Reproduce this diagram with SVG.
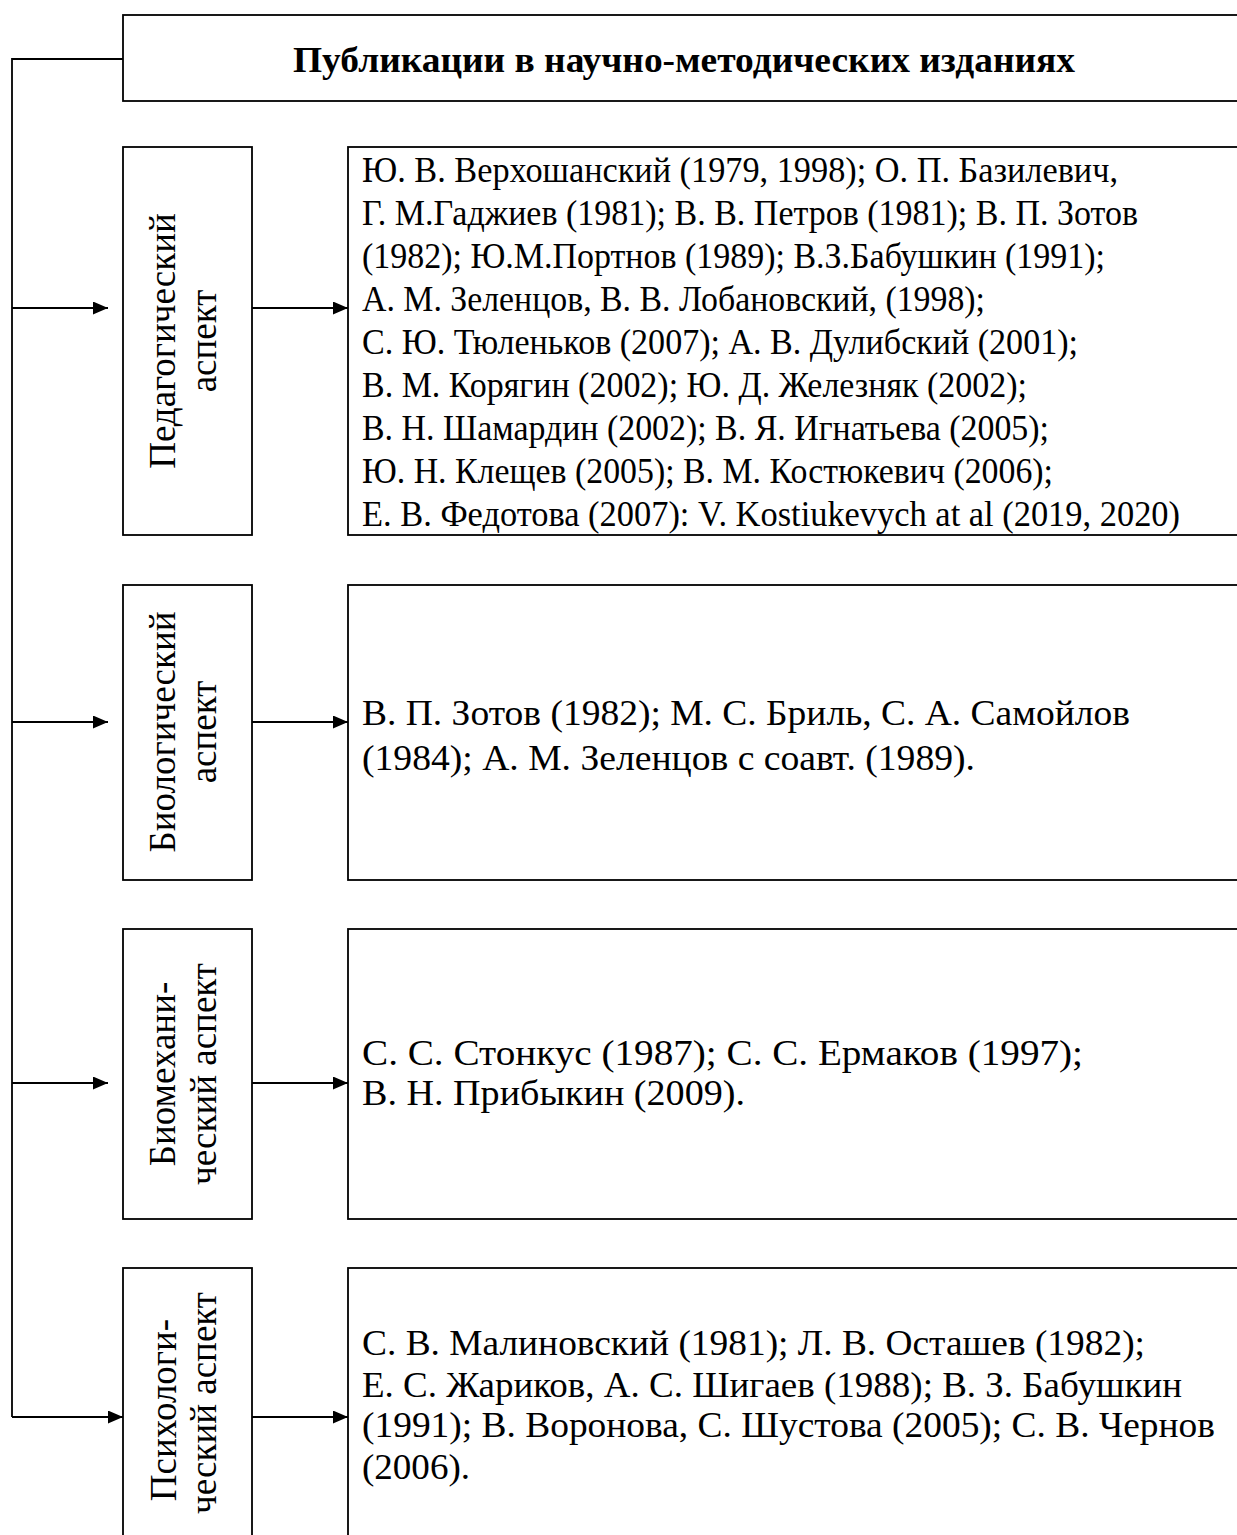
<svg xmlns="http://www.w3.org/2000/svg" width="1237" height="1535" viewBox="0 0 1237 1535">
<defs>
<marker id="arr" viewBox="0 0 15 13" refX="15" refY="6.5" markerWidth="15" markerHeight="13" markerUnits="userSpaceOnUse" orient="auto">
<path d="M0,0 L15,6.5 L0,13 Z" fill="#000"/>
</marker>
</defs>
<style>
.box{fill:#fff;stroke:#000;stroke-width:1.8}
.ln{fill:none;stroke:#000;stroke-width:1.8}
.t{font-family:"Liberation Serif","Times New Roman",serif;font-size:35px;fill:#000}
.tc{font-family:"Liberation Serif","Times New Roman",serif;font-size:36px;fill:#000}
.lab{font-family:"Liberation Serif","Times New Roman",serif;font-size:37px;fill:#000;text-anchor:middle}
.hd{font-family:"Liberation Serif","Times New Roman",serif;font-size:36px;font-weight:bold;fill:#000}
</style>
<rect width="1237" height="1535" fill="#fff"/>
<g id="header">
<rect class="box" x="123" y="15" width="1130" height="86"/>
<text class="hd" x="293" y="72" textLength="782" lengthAdjust="spacingAndGlyphs">Публикации в научно-методических изданиях</text>
</g>
<g id="ped-label">
<rect class="box" x="123" y="147" width="129" height="388"/>
<text class="lab" transform="translate(175,341) rotate(-90)">Педагогический</text>
<text class="lab" transform="translate(216,341) rotate(-90)">аспект</text>
</g>
<g id="ped-text">
<rect class="box" x="348" y="147" width="905" height="388"/>
<text class="tc" x="362" y="182" textLength="756" lengthAdjust="spacingAndGlyphs">Ю. В. Верхошанский (1979, 1998);  О. П. Базилевич,</text>
<text class="tc" x="362" y="225" textLength="776" lengthAdjust="spacingAndGlyphs">Г. М.Гаджиев (1981); В. В. Петров (1981); В. П. Зотов</text>
<text class="tc" x="362" y="268" textLength="743" lengthAdjust="spacingAndGlyphs">(1982); Ю.М.Портнов (1989); В.З.Бабушкин (1991);</text>
<text class="tc" x="362" y="311" textLength="623" lengthAdjust="spacingAndGlyphs">А. М. Зеленцов, В. В. Лобановский, (1998);</text>
<text class="tc" x="362" y="354" textLength="716" lengthAdjust="spacingAndGlyphs">С. Ю. Тюленьков (2007); А. В. Дулибский (2001);</text>
<text class="tc" x="362" y="397" textLength="665" lengthAdjust="spacingAndGlyphs">В. М. Корягин (2002); Ю. Д. Железняк (2002);</text>
<text class="tc" x="362" y="440" textLength="687" lengthAdjust="spacingAndGlyphs">В. Н. Шамардин (2002); В. Я. Игнатьева (2005);</text>
<text class="tc" x="362" y="483" textLength="691" lengthAdjust="spacingAndGlyphs">Ю. Н. Клещев (2005);  В. М. Костюкевич (2006);</text>
<text class="tc" x="362" y="526" textLength="818" lengthAdjust="spacingAndGlyphs">Е. В. Федотова (2007): V. Kostiukevych at al (2019, 2020)</text>
</g>
<g id="bio-label">
<rect class="box" x="123" y="585" width="129" height="295"/>
<text class="lab" transform="translate(175,732) rotate(-90)">Биологический</text>
<text class="lab" transform="translate(216,732) rotate(-90)">аспект</text>
</g>
<g id="bio-text">
<rect class="box" x="348" y="585" width="905" height="295"/>
<text class="t" x="362" y="725" textLength="768" lengthAdjust="spacingAndGlyphs">В. П. Зотов (1982); М. С. Бриль, С. А. Самойлов</text>
<text class="t" x="362" y="770" textLength="613" lengthAdjust="spacingAndGlyphs">(1984); А. М. Зеленцов с соавт. (1989).</text>
</g>
<g id="biomech-label">
<rect class="box" x="123" y="929" width="129" height="290"/>
<text class="lab" transform="translate(175,1074) rotate(-90)">Биомехани-</text>
<text class="lab" transform="translate(216,1074) rotate(-90)">ческий аспект</text>
</g>
<g id="biomech-text">
<rect class="box" x="348" y="929" width="905" height="290"/>
<text class="t" x="362" y="1065" textLength="721" lengthAdjust="spacingAndGlyphs">С. С. Стонкус (1987); С. С. Ермаков (1997);</text>
<text class="t" x="362" y="1105" textLength="383" lengthAdjust="spacingAndGlyphs">В. Н. Прибыкин (2009).</text>
</g>
<g id="psych-label">
<rect class="box" x="123" y="1268" width="129" height="300"/>
<text class="lab" transform="translate(176,1410) rotate(-90)">Психологи-</text>
<text class="lab" transform="translate(216,1403) rotate(-90)">ческий аспект</text>
</g>
<g id="psych-text">
<rect class="box" x="348" y="1268" width="905" height="300"/>
<text class="t" x="362" y="1355" textLength="783" lengthAdjust="spacingAndGlyphs">С. В. Малиновский (1981); Л. В. Осташев (1982);</text>
<text class="t" x="362" y="1397" textLength="820" lengthAdjust="spacingAndGlyphs">Е. С. Жариков, А. С. Шигаев (1988); В. З. Бабушкин</text>
<text class="t" x="362" y="1437" textLength="853" lengthAdjust="spacingAndGlyphs">(1991); В. Воронова, С. Шустова (2005); С. В. Чернов</text>
<text class="t" x="362" y="1479" textLength="108" lengthAdjust="spacingAndGlyphs">(2006).</text>
</g>
<g id="connectors">
<polyline class="ln" points="123,59 12,59 12,1417"/>
<line class="ln" x1="12" y1="308" x2="108" y2="308" marker-end="url(#arr)"/>
<line class="ln" x1="12" y1="722" x2="108" y2="722" marker-end="url(#arr)"/>
<line class="ln" x1="12" y1="1083" x2="108" y2="1083" marker-end="url(#arr)"/>
<line class="ln" x1="12" y1="1417" x2="123" y2="1417" marker-end="url(#arr)"/>
<line class="ln" x1="252" y1="308" x2="348" y2="308" marker-end="url(#arr)"/>
<line class="ln" x1="252" y1="722" x2="348" y2="722" marker-end="url(#arr)"/>
<line class="ln" x1="252" y1="1083" x2="348" y2="1083" marker-end="url(#arr)"/>
<line class="ln" x1="252" y1="1417" x2="348" y2="1417" marker-end="url(#arr)"/>
</g>
</svg>
